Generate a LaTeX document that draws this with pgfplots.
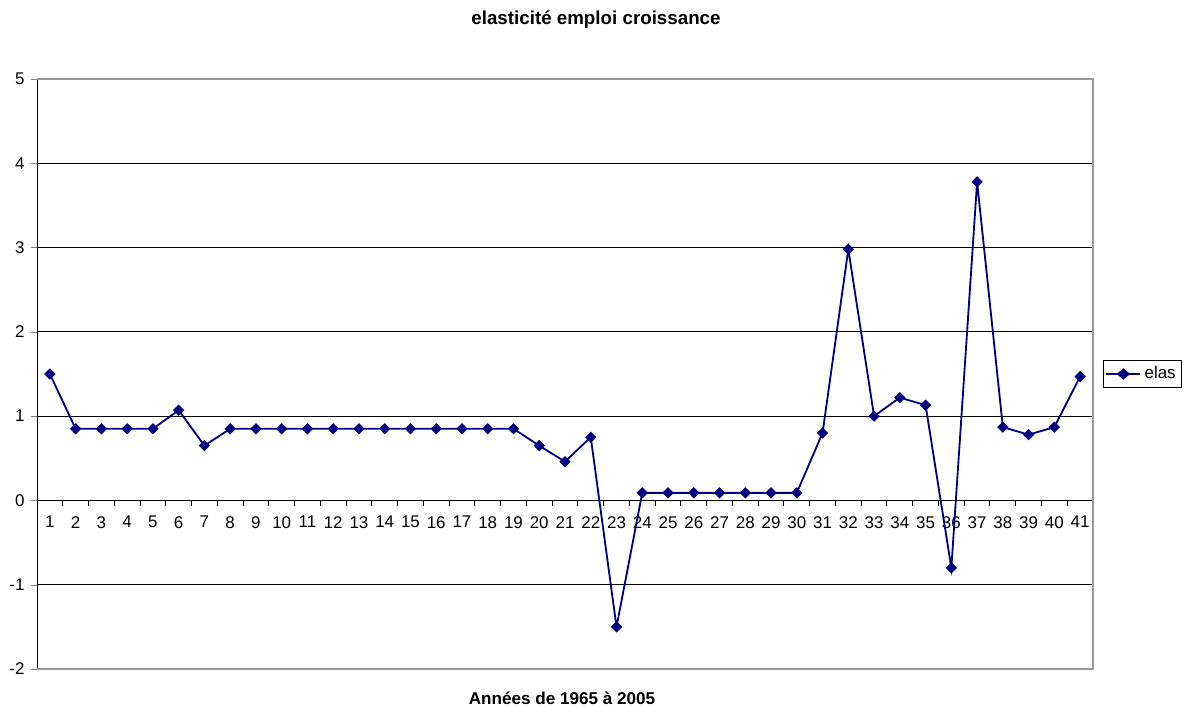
\documentclass[border=0pt]{standalone}
\usepackage{pgfplots}
\pgfplotsset{compat=1.18}
\usepackage{fontspec}
\setmainfont{Liberation Sans}
\definecolor{serie}{RGB}{0,0,128}
\begin{document}
\begin{tikzpicture}
\path[use as bounding box] (-22.2bp,-23.4bp) rectangle (691.8bp,401.4bp);
\begin{axis}[
  scale only axis,
  width=633.6bp, height=354bp,
  xmin=0.5, xmax=41.5, ymin=-2, ymax=5,
  axis x line=middle, axis y line=left,
  axis line style={-, black, line width=0.6bp},
  xtick={1,...,41},
  minor xtick={1.5,2.5,...,40.5},
  major x tick style={draw=none},
  minor x tick style={black, line width=0.6bp},
  minor tick length=3.5bp,
  ytick={-2,...,5},
  major tick length=3.5bp,
  tick align=outside,
  ymajorgrids,
  grid style={black, line width=0.5bp},
  font=\fontsize{10.2}{12}\selectfont,
  /pgf/number format/assume math mode=true,
  xticklabel style={yshift=-2.5bp},
  yticklabel style={xshift=-0.5bp},
  clip=false,
  legend style={at={(1.009,0.5)}, anchor=west, draw=black, line width=0.5bp,
    font=\fontsize{10.2}{12}\selectfont, inner sep=1.5bp},
  legend cell align=left,
  legend image post style={xscale=1.2},
]
\draw[gray!80, line width=0.8bp] (rel axis cs:0,1) -- (rel axis cs:1,1) -- (rel axis cs:1,0) -- (rel axis cs:0,0);
\addplot[serie, line width=1.1bp, mark=square*, mark options={rotate=45, line width=0.6bp}, mark size=2.1bp] coordinates {
(1,1.5) (2,0.85) (3,0.85) (4,0.85) (5,0.85) (6,1.07) (7,0.65) (8,0.85) (9,0.85) (10,0.85)
(11,0.85) (12,0.85) (13,0.85) (14,0.85) (15,0.85) (16,0.85) (17,0.85) (18,0.85) (19,0.85)
(20,0.65) (21,0.46) (22,0.75) (23,-1.5) (24,0.09) (25,0.09) (26,0.09) (27,0.09) (28,0.09)
(29,0.09) (30,0.09) (31,0.8) (32,2.98) (33,1.0) (34,1.22) (35,1.13) (36,-0.8) (37,3.78)
(38,0.87) (39,0.78) (40,0.87) (41,1.47)
};
\addlegendentry{elas}
\end{axis}
\node[font=\bfseries\fontsize{11.3}{13}\selectfont] at (335.4bp,389.4bp) {elasticité emploi croissance};
\node[font=\bfseries\fontsize{10.3}{12}\selectfont] at (315bp,-17.4bp) {Années de 1965 à 2005};
\end{tikzpicture}
\end{document}
